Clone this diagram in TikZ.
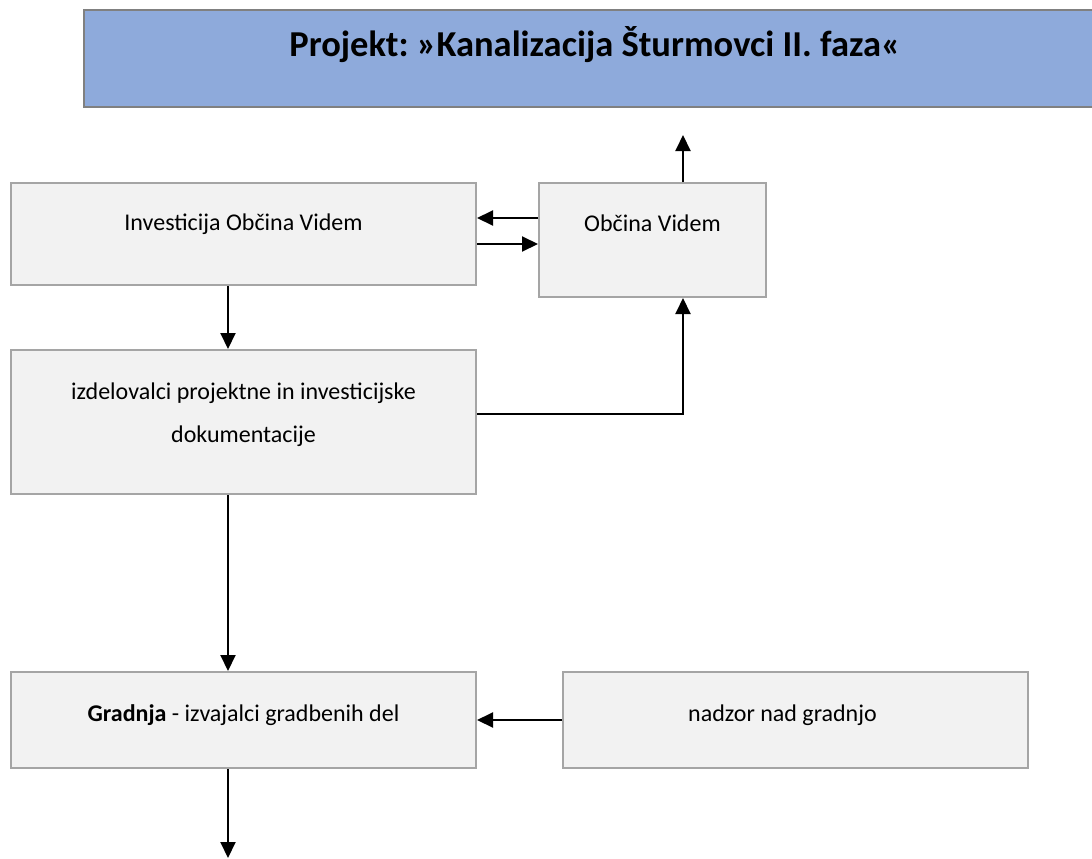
\documentclass[tikz,border=0pt]{standalone}
\usepackage{fontspec}
\setmainfont{Carlito}
\usepackage{tikz}
\usetikzlibrary{arrows.meta}

\definecolor{titleblue}{HTML}{8EAADB}
\definecolor{titleedge}{HTML}{808080}
\definecolor{boxgray}{HTML}{F2F2F2}
\definecolor{edgegray}{HTML}{A5A5A5}

\begin{document}
\begin{tikzpicture}[x=1pt,y=-1pt]
        \tikzstyle{box}=[rectangle,fill=boxgray,draw=edgegray,line width=2pt,
            minimum width=465pt,inner sep=0pt,text height=17pt,
            font=\fontsize{24}{43}\selectfont]
        \tikzstyle{arr}=[-{Triangle[length=16pt,width=15pt]},line width=2pt]
            \useasboundingbox (0,0) rectangle (1092,859);
            \clip (0,0) rectangle (1092,859);

            \node[box, fill=titleblue, draw=titleedge, minimum width=1022pt,
                minimum height=97pt, text height=25pt, text depth=28.5pt,
                font=\fontsize{36.5}{44}\selectfont\bfseries\frenchspacing]
                (title) at (595,58.5) {Projekt: »Kanalizacija Šturmovci II. faza«};

            \node[box, minimum height=102pt, text depth=24.5pt]
                (invest) at (243.5,234) {Investicija Občina Videm};
            \node[box, minimum width=227pt, minimum height=114pt, text depth=34.5pt]
                (obcina) at (652.5,240) {Občina Videm};
            \node[box, minimum height=144pt, text height=60pt, text depth=20pt, align=center]
                (izdel) at (243.5,422) {izdelovalci projektne in investicijske\\dokumentacije};
            \node[box, minimum height=96pt, text depth=14.9pt]
                (gradnja) at (243.5,720) {\textbf{Gradnja} - izvajalci gradbenih del};
            \node[box, minimum height=96pt, text depth=14.9pt]
                (nadzor) at (795.5,720) {nadzor nad gradnjo\hspace*{26pt}};

            \coordinate (up) at (683,135);
            \coordinate (down) at (228,858);

            \draw[arr] ([yshift=22pt]obcina.west) -- ([yshift=22pt]obcina.west -| invest.east);
            \draw[arr] ([yshift=-4pt]obcina.west -| invest.east) -- ([yshift=-4pt]obcina.west);
            \draw[arr] ([xshift=30.5pt]obcina.north) -- (up);
            \draw[arr] ([xshift=-15.5pt]invest.south) -- ([xshift=-15.5pt]izdel.north);
            \draw[arr] ([yshift=8pt]izdel.east) -| ([xshift=30.5pt]obcina.south);
            \draw[arr] ([xshift=-15.5pt]izdel.south) -- ([xshift=-15.5pt]gradnja.north);
            \draw[arr] (nadzor.west) -- (gradnja.east);
            \draw[arr] ([xshift=-15.5pt]gradnja.south) -- (down);
        \end{tikzpicture}
\end{document}
